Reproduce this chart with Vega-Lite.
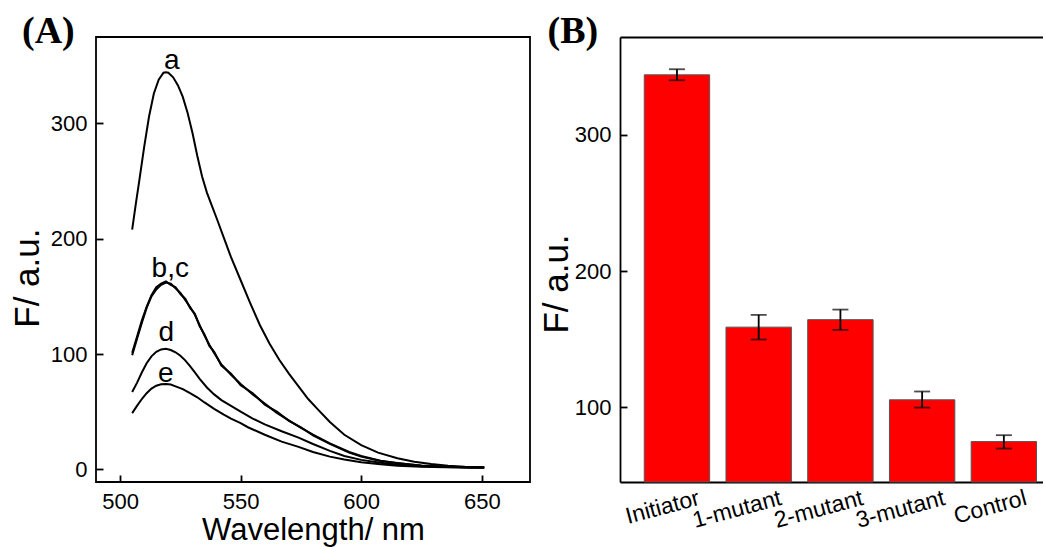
{
  "$schema": "https://vega.github.io/schema/vega-lite/v6.json",
  "padding": {"left": 9, "top": 12, "right": 0, "bottom": 0},
  "bounds": "flush",
  "spacing": 90,
  "config": {
    "font": "Liberation Sans",
    "axis": {"labelFont": "Liberation Sans", "titleFont": "Liberation Sans", "labelColor": "#000", "titleColor": "#000", "tickColor": "#000", "domainColor": "#000", "grid": false, "titleFontWeight": "normal"},
    "title": {"font": "Liberation Serif", "fontWeight": "bold", "fontSize": 38, "color": "#000", "anchor": "start", "frame": "group", "baseline": "bottom", "offset": -14}
  },
  "datasets": {
    "spectra": [
      {"s":"a","wl":505,"v":208},{"s":"a","wl":506.5,"v":230},{"s":"a","wl":508,"v":251},{"s":"a","wl":510,"v":280},{"s":"a","wl":512,"v":306},{"s":"a","wl":514,"v":326},{"s":"a","wl":516,"v":338},{"s":"a","wl":518,"v":344},{"s":"a","wl":519,"v":344.5},{"s":"a","wl":520,"v":344},{"s":"a","wl":522,"v":340},{"s":"a","wl":524,"v":333},{"s":"a","wl":526,"v":323},{"s":"a","wl":528,"v":309},{"s":"a","wl":530,"v":292},{"s":"a","wl":532,"v":272},{"s":"a","wl":534,"v":254},{"s":"a","wl":536,"v":240},{"s":"a","wl":538,"v":229},{"s":"a","wl":540,"v":218},{"s":"a","wl":543,"v":201},{"s":"a","wl":546,"v":184},{"s":"a","wl":550,"v":164},{"s":"a","wl":554,"v":144},{"s":"a","wl":558,"v":125},{"s":"a","wl":562,"v":109},{"s":"a","wl":566,"v":95},{"s":"a","wl":570,"v":83},{"s":"a","wl":574,"v":72},{"s":"a","wl":578,"v":61},{"s":"a","wl":582,"v":52},{"s":"a","wl":587,"v":41},{"s":"a","wl":593,"v":30},{"s":"a","wl":600,"v":21},{"s":"a","wl":607,"v":14.5},{"s":"a","wl":615,"v":9.6},{"s":"a","wl":622,"v":6.5},{"s":"a","wl":629,"v":4.6},{"s":"a","wl":636,"v":3.2},{"s":"a","wl":643,"v":2.3},{"s":"a","wl":651,"v":1.8},
      {"s":"b","wl":505,"v":99},{"s":"b","wl":507,"v":113},{"s":"b","wl":509,"v":127},{"s":"b","wl":511,"v":140},{"s":"b","wl":513,"v":150},{"s":"b","wl":515,"v":156},{"s":"b","wl":517,"v":160},{"s":"b","wl":519,"v":162},{"s":"b","wl":521,"v":161},{"s":"b","wl":523,"v":157},{"s":"b","wl":525,"v":153},{"s":"b","wl":527,"v":147},{"s":"b","wl":529,"v":141},{"s":"b","wl":531,"v":134},{"s":"b","wl":533,"v":125},{"s":"b","wl":535,"v":116},{"s":"b","wl":537,"v":108},{"s":"b","wl":539,"v":101},{"s":"b","wl":542,"v":91},{"s":"b","wl":546,"v":82},{"s":"b","wl":550,"v":74},{"s":"b","wl":555,"v":65},{"s":"b","wl":560,"v":57},{"s":"b","wl":565,"v":49},{"s":"b","wl":570,"v":42.5},{"s":"b","wl":575,"v":36},{"s":"b","wl":580,"v":30},{"s":"b","wl":587,"v":22.5},{"s":"b","wl":595,"v":15},{"s":"b","wl":600,"v":11.5},{"s":"b","wl":608,"v":7.5},{"s":"b","wl":615,"v":5.2},{"s":"b","wl":625,"v":3.4},{"s":"b","wl":635,"v":2.3},{"s":"b","wl":645,"v":1.7},{"s":"b","wl":651,"v":1.5},
      {"s":"c","wl":505,"v":101},{"s":"c","wl":507,"v":115},{"s":"c","wl":509,"v":129},{"s":"c","wl":511,"v":141},{"s":"c","wl":513,"v":151},{"s":"c","wl":515,"v":158},{"s":"c","wl":517,"v":161},{"s":"c","wl":519,"v":163},{"s":"c","wl":521,"v":160},{"s":"c","wl":523,"v":158},{"s":"c","wl":525,"v":152},{"s":"c","wl":527,"v":148},{"s":"c","wl":529,"v":140},{"s":"c","wl":531,"v":135},{"s":"c","wl":533,"v":124},{"s":"c","wl":535,"v":117},{"s":"c","wl":537,"v":107},{"s":"c","wl":539,"v":102},{"s":"c","wl":542,"v":90},{"s":"c","wl":546,"v":83},{"s":"c","wl":550,"v":73},{"s":"c","wl":555,"v":66},{"s":"c","wl":560,"v":56},{"s":"c","wl":565,"v":50},{"s":"c","wl":570,"v":42},{"s":"c","wl":575,"v":36.5},{"s":"c","wl":580,"v":29.5},{"s":"c","wl":587,"v":22},{"s":"c","wl":595,"v":14.5},{"s":"c","wl":600,"v":11},{"s":"c","wl":608,"v":7.2},{"s":"c","wl":615,"v":5.5},{"s":"c","wl":625,"v":3.2},{"s":"c","wl":635,"v":2.5},{"s":"c","wl":645,"v":1.6},{"s":"c","wl":651,"v":1.6},
      {"s":"d","wl":505,"v":67},{"s":"d","wl":507,"v":75},{"s":"d","wl":509,"v":84},{"s":"d","wl":511,"v":92},{"s":"d","wl":513,"v":98},{"s":"d","wl":515,"v":102},{"s":"d","wl":517,"v":104},{"s":"d","wl":519,"v":104.5},{"s":"d","wl":521,"v":103.5},{"s":"d","wl":523,"v":101.5},{"s":"d","wl":525,"v":98.5},{"s":"d","wl":527,"v":94.5},{"s":"d","wl":529,"v":89.5},{"s":"d","wl":531,"v":84},{"s":"d","wl":533,"v":78.5},{"s":"d","wl":536,"v":71},{"s":"d","wl":539,"v":65},{"s":"d","wl":542,"v":60},{"s":"d","wl":546,"v":55},{"s":"d","wl":550,"v":50},{"s":"d","wl":555,"v":44},{"s":"d","wl":560,"v":39},{"s":"d","wl":567,"v":33},{"s":"d","wl":574,"v":27.5},{"s":"d","wl":580,"v":22},{"s":"d","wl":587,"v":16},{"s":"d","wl":593,"v":11.5},{"s":"d","wl":600,"v":8.2},{"s":"d","wl":608,"v":5.6},{"s":"d","wl":615,"v":3.9},{"s":"d","wl":625,"v":2.6},{"s":"d","wl":635,"v":2},{"s":"d","wl":645,"v":1.6},{"s":"d","wl":651,"v":1.5},
      {"s":"e","wl":505,"v":48.7},{"s":"e","wl":507,"v":55},{"s":"e","wl":509,"v":61},{"s":"e","wl":511,"v":66},{"s":"e","wl":513,"v":70},{"s":"e","wl":515,"v":72.5},{"s":"e","wl":517,"v":73.8},{"s":"e","wl":519,"v":74},{"s":"e","wl":521,"v":73.5},{"s":"e","wl":523,"v":72},{"s":"e","wl":526,"v":69.5},{"s":"e","wl":529,"v":66},{"s":"e","wl":532,"v":62.5},{"s":"e","wl":535,"v":58},{"s":"e","wl":539,"v":52.5},{"s":"e","wl":543,"v":47.5},{"s":"e","wl":546,"v":44},{"s":"e","wl":550,"v":40},{"s":"e","wl":553,"v":36.5},{"s":"e","wl":560,"v":30},{"s":"e","wl":567,"v":24},{"s":"e","wl":574,"v":19.5},{"s":"e","wl":580,"v":15},{"s":"e","wl":587,"v":11},{"s":"e","wl":593,"v":8.5},{"s":"e","wl":600,"v":6.2},{"s":"e","wl":608,"v":4.3},{"s":"e","wl":615,"v":3.2},{"s":"e","wl":625,"v":2.3},{"s":"e","wl":635,"v":1.8},{"s":"e","wl":645,"v":1.5},{"s":"e","wl":651,"v":1.4}
    ],
    "labels": [
      {"label":"a","wl":521.4,"v":347},
      {"label":"b,c","wl":520.8,"v":167},
      {"label":"d","wl":519.1,"v":111.7},
      {"label":"e","wl":518.9,"v":76.1}
    ],
    "bars": [
      {"cat":"Initiator","mean":344.2,"lo":340.2,"hi":348.3},
      {"cat":"1-mutant","mean":158.8,"lo":149.7,"hi":167.8},
      {"cat":"2-mutant","mean":164.3,"lo":156.8,"hi":171.7},
      {"cat":"3-mutant","mean":105.4,"lo":99.7,"hi":111.5},
      {"cat":"Control","mean":74.7,"lo":69.6,"hi":79.4}
    ]
  },
  "hconcat": [
    {
      "width": 434,
      "height": 445,
      "title": {"text": "(A)", "dx": -74},
      "view": {"stroke": "#000", "strokeWidth": 1.8},
      "layer": [
        {
          "data": {"name": "spectra"},
          "mark": {"type": "line", "color": "#000", "strokeWidth": 2},
          "encoding": {
            "x": {"field": "wl", "type": "quantitative", "scale": {"domain": [490, 670], "nice": false, "zero": false},
              "axis": {"values": [500, 550, 600, 650], "title": "Wavelength/ nm", "titleFontSize": 31, "labelFontSize": 22, "tickSize": -7, "tickWidth": 1.8, "domain": false, "labelPadding": 33, "labelBaseline": "alphabetic", "titleBaseline": "alphabetic", "titleX": 217, "titleY": 57.7}},
            "y": {"field": "v", "type": "quantitative", "scale": {"domain": [-11, 375], "nice": false, "zero": false},
              "axis": {"values": [0, 100, 200, 300], "title": "F/ a.u.", "titleFontSize": 35, "labelFontSize": 22, "tickSize": -7, "tickWidth": 1.8, "domain": false, "labelPadding": 16, "labelBaseline": "middle", "titleBaseline": "alphabetic", "titleAlign": "center", "titleX": -57.6, "titleY": 240.6}},
            "detail": {"field": "s", "type": "nominal"}
          }
        },
        {
          "data": {"name": "labels"},
          "mark": {"type": "text", "fontSize": 28, "baseline": "alphabetic", "align": "center", "color": "#000", "font": "Liberation Sans"},
          "encoding": {
            "x": {"field": "wl", "type": "quantitative"},
            "y": {"field": "v", "type": "quantitative"},
            "text": {"field": "label", "type": "nominal"}
          }
        }
      ]
    },
    {
      "width": 423,
      "height": 445,
      "title": {"text": "(B)", "dx": -72.5},
      "view": {"stroke": null},
      "data": {"name": "bars"},
      "layer": [
        {
          "mark": {"type": "bar", "color": "#ff0000", "stroke": "#555", "strokeWidth": 1},
          "encoding": {
            "x": {"field": "cat", "type": "nominal", "sort": null, "scale": {"paddingInner": 0.2, "paddingOuter": 0.188, "align": 0.79},
              "axis": {"title": null, "labelAngle": -15, "labelAlign": "right", "labelBaseline": "alphabetic", "labelPadding": 22, "labelOffset": 24, "ticks": false, "domain": true, "domainWidth": 1.8, "labelFontSize": 23}},
            "y": {"field": "mean", "type": "quantitative", "title": "F/ a.u.", "scale": {"domain": [45, 372], "nice": false, "zero": false},
              "axis": {"values": [100, 200, 300], "titleFontSize": 35, "labelFontSize": 22, "tickSize": -7, "tickWidth": 1.8, "domain": true, "domainWidth": 1.8, "labelPadding": 16, "labelBaseline": "middle", "titleBaseline": "alphabetic", "titleAlign": "center", "titleX": -52.8, "titleY": 246.5}},
            "y2": {"datum": 45}
          }
        },
        {
          "mark": {"type": "rule", "color": "#000", "strokeWidth": 1.8},
          "encoding": {
            "x": {"field": "cat", "type": "nominal", "sort": null,
              "axis": {"orient": "top", "labels": false, "ticks": false, "title": null, "domain": true, "domainWidth": 1.8}},
            "y": {"field": "lo", "type": "quantitative", "title": "F/ a.u."},
            "y2": {"field": "hi"}
          }
        },
        {
          "mark": {"type": "tick", "color": "#000", "thickness": 1.8, "size": 16, "orient": "horizontal"},
          "encoding": {
            "x": {"field": "cat", "type": "nominal", "sort": null, "axis": null},
            "y": {"field": "lo", "type": "quantitative", "title": "F/ a.u."}
          }
        },
        {
          "mark": {"type": "tick", "color": "#000", "thickness": 1.8, "size": 16, "orient": "horizontal"},
          "encoding": {
            "x": {"field": "cat", "type": "nominal", "sort": null, "axis": null},
            "y": {"field": "hi", "type": "quantitative", "title": "F/ a.u."}
          }
        }
      ],
      "resolve": {"axis": {"x": "independent"}}
    }
  ]
}
